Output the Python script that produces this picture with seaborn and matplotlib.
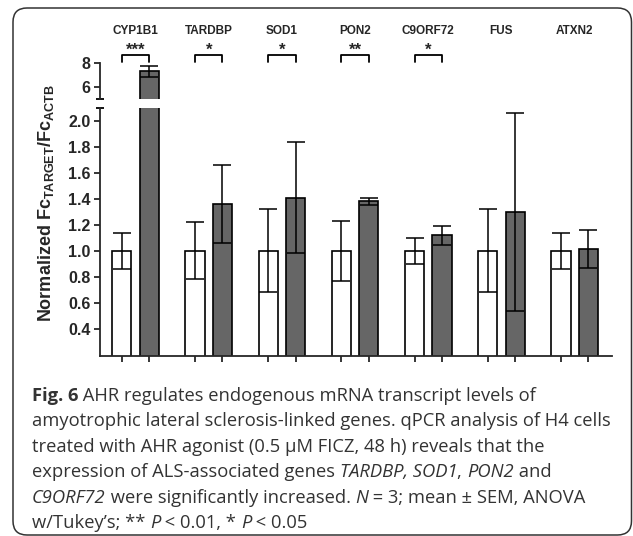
import numpy as np
import pandas as pd
import matplotlib
matplotlib.use("Agg")
import matplotlib.pyplot as plt
import matplotlib.transforms as mtransforms
from matplotlib.container import BarContainer
from matplotlib.patches import FancyBboxPatch
import seaborn as sns

# values (mean +/- SEM)
genes = ["CYP1B1", "TARDBP", "SOD1", "PON2", "C9ORF72", "FUS", "ATXN2"]
conditions = ["Vehicle", "FICZ"]
vehicle_mean = [1.0, 1.0, 1.0, 1.0, 1.0, 1.0, 1.0]
vehicle_sem = [0.14, 0.22, 0.32, 0.23, 0.10, 0.32, 0.14]
ficz_mean = [7.3, 1.36, 1.41, 1.38, 1.12, 1.30, 1.015]
ficz_sem = [0.45, 0.30, 0.43, 0.03, 0.075, 0.76, 0.145]
stars = ["***", "*", "*", "**", "*", "", ""]

caption = [
    [("Fig. 6", "bold"), (" AHR regulates endogenous mRNA transcript levels of", "normal")],
    [("amyotrophic lateral sclerosis-linked genes. qPCR analysis of H4 cells", "normal")],
    [("treated with AHR agonist (0.5 µM FICZ, 48 h) reveals that the", "normal")],
    [("expression of ALS-associated genes ", "normal"), ("TARDBP, SOD1", "italic"),
     (", ", "normal"), ("PON2", "italic"), (" and", "normal")],
    [("C9ORF72", "italic"), (" were significantly increased. ", "normal"), ("N", "italic"),
     (" = 3; mean ± SEM, ANOVA", "normal")],
    [("w/Tukey\u2019s; ** ", "normal"), ("P", "italic"), (" < 0.01, * ", "normal"),
     ("P", "italic"), (" < 0.05", "normal")],
]

df = pd.DataFrame({
    "gene": genes * 2,
    "condition": [conditions[0]] * len(genes) + [conditions[1]] * len(genes),
    "value": vehicle_mean + ficz_mean,
})
sems = {conditions[0]: vehicle_sem, conditions[1]: ficz_sem}

sns.set_style("ticks")
plt.rcParams["font.family"] = ["Liberation Sans", "DejaVu Sans"]
plt.rcParams["font.weight"] = "bold"
plt.rcParams["mathtext.fontset"] = "custom"
plt.rcParams["mathtext.rm"] = "Liberation Sans:bold"
plt.rcParams["mathtext.default"] = "rm"

W, H = 633, 536
fig = plt.figure(figsize=(W / 100, H / 100), dpi=100)


def px_box(left, top, right, bottom):
    return [left / W, 1 - bottom / H, (right - left) / W, (bottom - top) / H]


ax_top = fig.add_axes(px_box(100, 63, 612, 99))
ax_low = fig.add_axes(px_box(100, 108, 612, 356))

bar_sets = {}
for ax in (ax_top, ax_low):
    sns.barplot(data=df, x="gene", y="value", hue="condition", order=genes,
                hue_order=conditions, palette={"Vehicle": "white", "FICZ": "#666666"},
                edgecolor="black", linewidth=1.2, width=0.747, gap=0.3,
                errorbar=None, legend=False, ax=ax)
    bars = [c for c in ax.containers if isinstance(c, BarContainer)]
    bar_sets[ax] = bars
    for cond, cont in zip(conditions, bars):
        for bar in cont:
            xc = bar.get_x() + bar.get_width() / 2
            i = int(round(xc))
            ax.errorbar(xc, bar.get_height(), yerr=sems[cond][i], fmt="none",
                        ecolor="black", elinewidth=1.1, capsize=6.5, capthick=1.1)
    ax.set_xlim(-0.485, 6.51)
    ax.set_xlabel("")
    ax.set_ylabel("")
    for side in ("top", "right"):
        ax.spines[side].set_visible(False)
    ax.spines["left"].set_linewidth(1.3)
    ax.tick_params(axis="y", labelsize=11.5, width=1.3, length=4, pad=3)

c0, c1 = bar_sets[ax_low]
centers = sorted(b.get_x() + b.get_width() / 2 for c in (c0, c1) for b in c)

ax_top.set_ylim(5, 8)
ax_top.set_yticks([6, 8])
ax_top.spines["bottom"].set_visible(False)
ax_top.tick_params(axis="x", bottom=False, labelbottom=False)

ax_low.set_ylim(0.19, 2.1)
ax_low.set_yticks(np.arange(0.4, 2.01, 0.2))
ax_low.set_yticklabels([f"{v:.1f}" for v in np.arange(0.4, 2.01, 0.2)])
ax_low.spines["bottom"].set_linewidth(1.3)
ax_low.set_xticks(centers)
ax_low.set_xticklabels([])
ax_low.tick_params(axis="x", length=4, width=1.3)

# axis break marks
ax_top.plot([0], [0], marker="_", ms=6, mew=1.3, color="black",
            transform=ax_top.transAxes, clip_on=False)
ax_low.plot([0], [1], marker="_", ms=6, mew=1.3, color="black",
            transform=ax_low.transAxes, clip_on=False)

# gene names, significance stars and brackets
trans = mtransforms.blended_transform_factory(ax_low.transData, fig.transFigure)
for i, g in enumerate(genes):
    ax_low.text(i, 1 - 31 / H, g, transform=trans, ha="center", va="center",
                fontsize=8.5, fontweight="bold", clip_on=False)
    if stars[i]:
        x0 = c0[i].get_x() + c0[i].get_width() / 2
        x1 = c1[i].get_x() + c1[i].get_width() / 2
        ax_low.plot([x0, x0, x1, x1], [1 - 62 / H, 1 - 55 / H, 1 - 55 / H, 1 - 62 / H],
                    transform=trans, color="black", lw=1.3, clip_on=False)
        ax_low.text(i, 1 - 55 / H, stars[i], transform=trans, ha="center",
                    va="baseline", fontsize=12, fontweight="bold", clip_on=False)

fig.text(46 / W, 1 - 203 / H, r"Normalized Fc$_{TARGET}$/Fc$_{ACTB}$", rotation=90,
         ha="center", va="center", fontsize=13, fontweight="bold")

# caption
renderer = fig.canvas.get_renderer()
cap_kw = dict(family=["Open Sans", "DejaVu Sans"], fontsize=13.2, color="#333333")


def seg_props(style):
    if style == "bold":
        return dict(weight="bold", style="normal")
    if style == "italic":
        return dict(weight="normal", style="italic")
    return dict(weight="normal", style="normal")


def seg_width(s, props):
    t1 = fig.text(0, 0, "|" + s + "|", **cap_kw, **props)
    t2 = fig.text(0, 0, "||", **cap_kw, **props)
    w = t1.get_window_extent(renderer).width - t2.get_window_extent(renderer).width
    t1.remove()
    t2.remove()
    return w


baseline0 = 401
for k, line in enumerate(caption):
    x = 32
    y = 1 - (baseline0 + k * 25.4) / H
    for s, style in line:
        props = seg_props(style)
        fig.text(x / W, y, s, ha="left", va="baseline", **cap_kw, **props)
        x += seg_width(s, props)

frame = FancyBboxPatch((13, 1), 618.5, 527, boxstyle="round,pad=0,rounding_size=14",
                       transform=mtransforms.IdentityTransform(), fill=False,
                       edgecolor="#333333", lw=1.1)
fig.add_artist(frame)

fig.savefig("out.png", dpi=100)
